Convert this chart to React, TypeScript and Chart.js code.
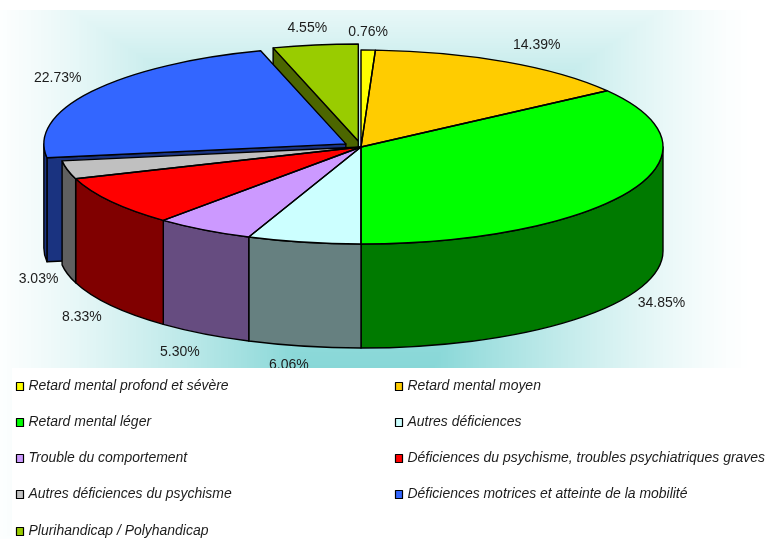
import React, { useEffect, useRef } from "react";
import { Chart, registerables } from "chart.js";

Chart.register(...registerables);

const categories = [
  "Retard mental profond et sévère",
  "Retard mental moyen",
  "Retard mental léger",
  "Autres déficiences",
  "Trouble du comportement",
  "Déficiences du psychisme, troubles psychiatriques graves",
  "Autres déficiences du psychisme",
  "Déficiences motrices et atteinte de la mobilité",
  "Plurihandicap / Polyhandicap",
];
const shares = [0.76, 14.39, 34.85, 6.06, 5.3, 8.33, 3.03, 22.73, 4.55];
const topColors = ["#FFFF00", "#FFCC00", "#00FF00", "#CCFFFF", "#CC99FF", "#FF0000", "#C0C0C0", "#3366FF", "#99CC00"];
const wallColors = ["#808000", "#806600", "#007A00", "#668080", "#664C80", "#800000", "#606060", "#1A3380", "#4C6600"];
const explode = [0, 0, 0, 0, 0, 0, 0, 18, 19];
const labelNudge = [
  [0, -18], [31, -17], [32, 8], [-15, 19], [-24, 18], [-29, 12], [-29, 5], [-34, -13], [-8, -17],
];

const W = 766;
const H = 539;
const RADIUS = 302;
const TILT = 97 / 302;
const DEPTH = 104;
const FONT = '"Liberation Sans", Arial, sans-serif';

function vT(y: number) {
  const knots = [[0, 0.8], [10, 0.767], [67, 0.544], [368, 0.174], [539, 0.95]];
  for (let i = 1; i < knots.length; i++) {
    if (y <= knots[i][0]) {
      const [a, b] = [knots[i - 1], knots[i]];
      return a[1] + ((y - a[0]) / (b[0] - a[0])) * (b[1] - a[1]);
    }
  }
  return 1;
}

function paintBackground(ctx: CanvasRenderingContext2D) {
  const off = document.createElement("canvas");
  off.width = W;
  off.height = H - 10;
  const oc = off.getContext("2d")!;
  const img = oc.createImageData(W, H - 10);
  for (let py = 0; py < H - 10; py++) {
    const y = py + 10;
    const v = vT(y);
    for (let x = 0; x < W; x++) {
      const t = Math.min(1, Math.max(Math.abs(x - 366) / 385, v));
      const s = Math.pow(1 - t, 1.3);
      const i = (py * W + x) * 4;
      img.data[i] = 255 - 153 * s;
      img.data[i + 1] = 255 - 51 * s;
      img.data[i + 2] = 255 - 51 * s;
      img.data[i + 3] = 255;
    }
  }
  oc.putImageData(img, 0, 0);
  ctx.drawImage(off, 0, 10);
}

const pie3d = {
  id: "pie3d",
  beforeDatasetsDraw(chart: any) {
    const ctx: CanvasRenderingContext2D = chart.ctx;
    const arcs = chart.getDatasetMeta(0).data as any[];
    ctx.save();
    paintBackground(ctx);

    const geom = arcs.map((a, i) => {
      const p = a.getProps(["x", "y", "startAngle", "endAngle", "outerRadius"], true);
      const half = (p.startAngle + p.endAngle) / 2;
      return {
        ...p,
        half,
        cx: p.x + Math.cos(half) * explode[i],
        cy: p.y + Math.sin(half) * explode[i] * TILT,
        rx: p.outerRadius,
        ry: p.outerRadius * TILT,
      };
    });

    ctx.lineJoin = "round";
    ctx.strokeStyle = "#000";
    ctx.lineWidth = 1.4;

    const cutFace = (i: number) => {
      const g = geom[i];
      const ox = g.cx + Math.cos(g.startAngle) * g.rx;
      const oy = g.cy + Math.sin(g.startAngle) * g.ry;
      ctx.beginPath();
      ctx.moveTo(g.cx, g.cy);
      ctx.lineTo(ox, oy);
      ctx.lineTo(ox, oy + DEPTH);
      ctx.lineTo(g.cx, g.cy + DEPTH);
      ctx.closePath();
      ctx.fillStyle = wallColors[i];
      ctx.fill();
      ctx.stroke();
    };
    [8, 7].forEach(cutFace);

    geom.forEach((g, i) => {
      const a1 = Math.max(g.startAngle, 0);
      const a2 = Math.min(g.endAngle, Math.PI);
      if (a2 <= a1) return;
      ctx.beginPath();
      ctx.ellipse(g.cx, g.cy, g.rx, g.ry, 0, a1, a2);
      ctx.ellipse(g.cx, g.cy + DEPTH, g.rx, g.ry, 0, a2, a1, true);
      ctx.closePath();
      ctx.fillStyle = wallColors[i];
      ctx.fill();
      ctx.stroke();
    });

    const inTilt = (g: any, fn: () => void) => {
      ctx.save();
      ctx.translate(g.cx, g.cy);
      ctx.scale(1, TILT);
      ctx.translate(-g.x, -g.y);
      fn();
      ctx.restore();
    };
    arcs.forEach((a, i) => inTilt(geom[i], () => a.draw(ctx)));
    geom.forEach((g) => {
      ctx.beginPath();
      inTilt(g, () => {
        ctx.moveTo(g.x, g.y);
        ctx.arc(g.x, g.y, g.rx, g.startAngle, g.endAngle);
        ctx.closePath();
      });
      ctx.stroke();
    });

    ctx.fillStyle = "#1c1c1c";
    ctx.font = `14px ${FONT}`;
    ctx.textAlign = "center";
    ctx.textBaseline = "middle";
    geom.forEach((g, i) => {
      const front = Math.sin(g.half) > 0 ? DEPTH : 0;
      const x = g.cx + Math.cos(g.half) * g.rx + labelNudge[i][0];
      const y = g.cy + Math.sin(g.half) * g.ry + front + labelNudge[i][1];
      ctx.fillText(shares[i].toFixed(2) + "%", x, y);
    });

    ctx.fillStyle = "#fff";
    ctx.fillRect(12, 368, W - 12, H - 368);

    const colX = [16, 395];
    const rowY = [386, 422, 458, 494, 531];
    ctx.textAlign = "left";
    ctx.font = `italic 13.96px ${FONT}`;
    categories.forEach((c, i) => {
      const col = i % 2;
      const row = Math.floor(i / 2);
      const top = rowY[row] - 3.5;
      ctx.fillStyle = topColors[i];
      ctx.fillRect(colX[col] + 0.5, top, 7, 8);
      ctx.strokeStyle = "#000";
      ctx.lineWidth = 1.2;
      ctx.strokeRect(colX[col] + 0.5, top, 7, 8);
      ctx.fillStyle = "#1c1c1c";
      ctx.fillText(c, colX[col] + 12.5, rowY[row]);
    });
    ctx.restore();
    return false;
  },
};

export default function App() {
  const ref = useRef<HTMLCanvasElement>(null);
  useEffect(() => {
    const chart = new Chart(ref.current!, {
      type: "pie",
      data: {
        labels: categories,
        datasets: [{ data: shares, backgroundColor: topColors, borderWidth: 0 }],
      },
      options: {
        responsive: false,
        animation: false,
        radius: RADIUS,
        layout: { padding: { left: 0, right: W - 722, top: 0, bottom: H - 294 } },
        plugins: { legend: { display: false }, tooltip: { enabled: false }, title: { display: false } },
      } as any,
      plugins: [pie3d as any],
    });
    return () => chart.destroy();
  }, []);
  return (
    <div style={{ position: "absolute", left: 0, top: 0, width: W, height: H, background: "#fff" }}>
      <canvas ref={ref} width={W} height={H} style={{ display: "block" }} />
    </div>
  );
}
